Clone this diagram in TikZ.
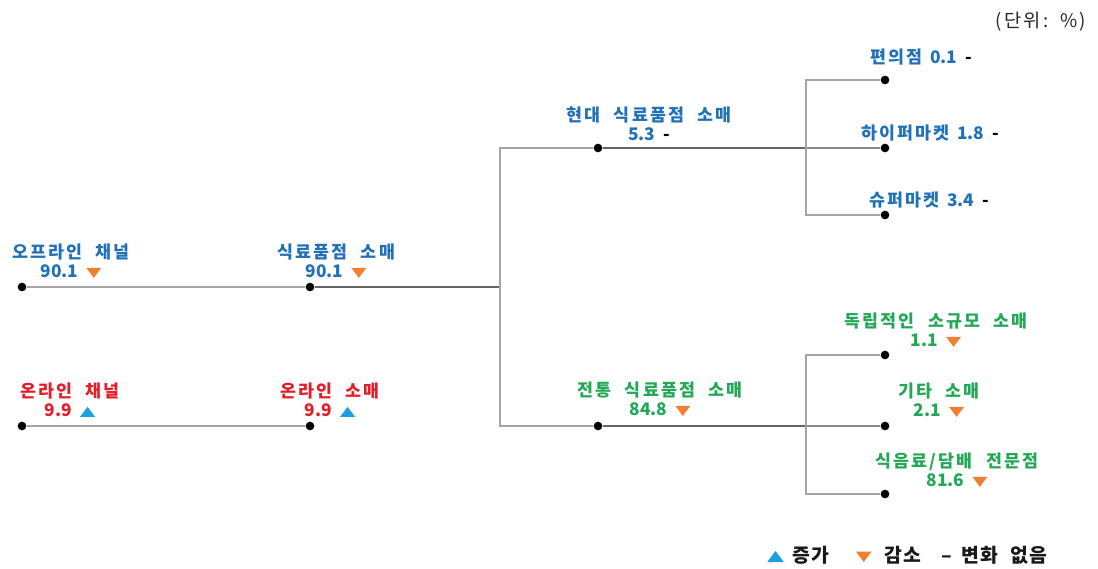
\documentclass[tikz,border=0pt]{standalone}
\usepackage{fontspec}
\setmainfont{Noto Sans CJK KR}[WordSpace=2.0]
\newfontfamily\hgfont{Noto Sans CJK KR}[LetterSpace=12,WordSpace=2.3]
\newfontfamily\lgfont{Noto Sans CJK KR}[LetterSpace=6,WordSpace=2.2]
\definecolor{cBlue}{RGB}{33,112,184}
\definecolor{cRed}{RGB}{228,30,40}
\definecolor{cGreen}{RGB}{34,168,86}
\definecolor{triOr}{RGB}{240,128,48}
\definecolor{triCy}{RGB}{28,160,221}
\definecolor{cLight}{RGB}{165,165,165}
\definecolor{cMid}{RGB}{135,135,135}
\definecolor{cDark}{RGB}{100,100,100}
\newcommand\dnTri[1][1]{\tikz[baseline=0pt,x=#1pt,y=#1pt]\fill[triOr](0,7.5)--(11.25,7.5)--(5.6,0)--cycle;}
\newcommand\upTri[1][1]{\tikz[baseline=0pt,x=#1pt,y=#1pt]\fill[triCy](0,0)--(11.25,0)--(5.6,7.5)--cycle;}
\newcommand\lblfont{\fontsize{13pt}{14.5pt}\selectfont\bfseries}
\newcommand\hg[1]{{\hgfont\bfseries #1}}
\tikzset{
  lbl/.style={font=\lblfont, align=center, inner sep=0pt},
  lblB/.style={lbl, text=cBlue},
  lblR/.style={lbl, text=cRed},
  lblG/.style={lbl, text=cGreen},
  dotnode/.style={circle, fill=black, inner sep=0pt, minimum size=6.5pt},
  lnLight/.style={draw=cLight, line width=1.5pt},
  lnMid/.style={draw=cMid, line width=1.6pt},
  lnDark/.style={draw=cDark, line width=1.9pt},
}
\begin{document}
\begin{tikzpicture}[x=0.75pt,y=-0.75pt]
\useasboundingbox (0,0) rectangle (1098,568);
\fill[white] (0,0) rectangle (1098,568);

% dots
\node[dotnode] (o1) at (22,287) {};
\node[dotnode] (o2) at (310,287) {};
\node[dotnode] (n1) at (22,426) {};
\node[dotnode] (n2) at (310,426) {};
\node[dotnode] (m) at (598,148) {};
\node[dotnode] (t) at (598,426) {};
\node[dotnode] (c1) at (885,80) {};
\node[dotnode] (c2) at (885,148) {};
\node[dotnode] (c3) at (885,215) {};
\node[dotnode] (d1) at (885,355) {};
\node[dotnode] (d2) at (885,426) {};
\node[dotnode] (d3) at (885,494) {};
\coordinate (J1) at (500,287);
\coordinate (J2) at (806,148);
\coordinate (J3) at (806,426);

% connectors
\draw[lnLight] (o1) -- (o2);
\draw[lnDark] (o2) -- (J1);
\draw[lnLight] (n1) -- (n2);
\draw[lnLight] (J1) |- (m);
\draw[lnLight] (J1) |- (t);
\draw[lnDark] (m) -- (J2);
\draw[lnDark] (t) -- (J3);
\draw[lnMid] (J2) -- (c2);
\draw[lnMid] (J3) -- (d2);
\draw[lnLight] (J2) |- (c1);
\draw[lnLight] (J2) |- (c3);
\draw[lnLight] (J3) |- (d1);
\draw[lnLight] (J3) |- (d3);

% labels
\node[lblB] (Loff) at (71,261) {\hg{오프라인 채널}\\90.1 \dnTri};
\node[lblB] (Lgro) at (336,261) {\hg{식료품점 소매}\\90.1 \dnTri};
\node[lblR] (Lonc) at (70,400) {\hg{온라인 채널}\\9.9 \upTri};
\node[lblR] (Lonr) at (330,400) {\hg{온라인 소매}\\9.9 \upTri};
\node[lblB] (Lmod) at (649,124) {\hg{현대 식료품점 소매}\\5.3 \textcolor{black}{-}};
\node[lblB] (Lc1) at (921,57) {\hg{편의점} 0.1 \textcolor{black}{-}};
\node[lblB] (Lc2) at (930,133) {\hg{하이퍼마켓} 1.8 \textcolor{black}{-}};
\node[lblB] (Lc3) at (929,200) {\hg{슈퍼마켓} 3.4 \textcolor{black}{-}};
\node[lblG] (Ltra) at (660,399) {\hg{전통 식료품점 소매}\\84.8 \dnTri};
\node[lblG] (Ld1) at (936,330) {\hg{독립적인 소규모 소매}\\1.1 \dnTri};
\node[lblG] (Ld2) at (939,400) {\hg{기타 소매}\\2.1 \dnTri};
\node[lblG] (Ld3) at (957,470) {\hg{식음료/담배 전문점}\\81.6 \dnTri};

\node[font=\fontsize{14pt}{15pt}\selectfont\hgfont, text=black!85, inner sep=0pt] (unit) at (1041,22) {(단위:\hspace{9pt}\%)};
\node[font=\fontsize{14.5pt}{15pt}\selectfont\lgfont\bfseries, text=black!90, anchor=base west, inner sep=0pt] (legend) at (767,562) {\upTri[1.1]\hspace{6.5pt}증가\hspace{20pt}\dnTri[1.05]\hspace{10pt}감소\hspace{15pt}–\hspace{7pt}변화 없음};
\end{tikzpicture}
\end{document}
